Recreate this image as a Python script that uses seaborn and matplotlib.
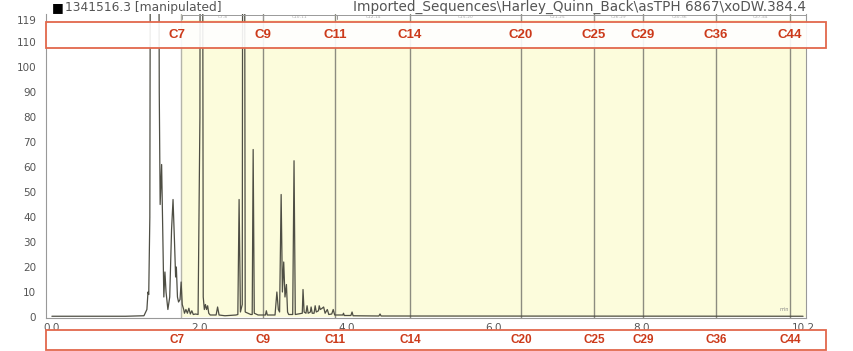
import matplotlib
matplotlib.use("Agg")
import matplotlib.pyplot as plt
import matplotlib.transforms as mtransforms
from matplotlib.patches import Rectangle
import seaborn as sns
import pandas as pd

# ---- data ----
time_min = [0.00, 1.00, 1.25, 1.29, 1.305, 1.315, 1.33, 1.345, 1.44, 1.458, 1.47, 1.49, 1.505,
             1.52, 1.535, 1.55, 1.575, 1.60, 1.625, 1.645, 1.665, 1.68, 1.69, 1.705, 1.72, 1.74,
             1.755, 1.77, 1.79, 1.80, 1.82, 1.84, 1.86, 1.88, 1.90, 1.92, 1.95, 1.985, 2.01, 2.02,
             2.04, 2.055, 2.07, 2.085, 2.10, 2.115, 2.13, 2.15, 2.23, 2.25, 2.27, 2.35, 2.50, 2.525,
             2.542, 2.56, 2.585, 2.595, 2.61, 2.625, 2.70, 2.72, 2.733, 2.748, 2.80, 2.90, 2.912,
             2.925, 3.03, 3.055, 3.075, 3.092, 3.113, 3.13, 3.148, 3.165, 3.185, 3.20, 3.215, 3.27,
             3.288, 3.305, 3.40, 3.41, 3.425, 3.45, 3.465, 3.48, 3.51, 3.52, 3.535, 3.56, 3.575,
             3.59, 3.62, 3.63, 3.645, 3.67, 3.69, 3.71, 3.74, 3.76, 3.80, 3.82, 3.84, 3.95, 3.96,
             3.97, 4.06, 4.076, 4.09, 4.44, 4.456, 4.47, 10.2]
signal = [0.3, 0.3, 0.5, 3, 10, 9, 40, 300, 300, 90, 45, 61, 35,
          8, 18, 10, 3, 8, 35, 47, 30, 16, 20, 8, 6, 7,
          14, 5, 3, 1.5, 3, 1.5, 3.5, 1.2, 2.5, 1, 1.2, 1, 80, 300,
          300, 8, 3, 5, 3, 4.5, 1.5, 0.8, 0.8, 4, 0.8, 0.5, 0.8, 1,
          47, 2, 5, 300, 300, 2, 1, 1, 67, 1.5, 0.8, 0.8, 2.5,
          0.8, 0.8, 10, 3, 2, 49, 10, 22, 8, 13, 2, 1, 1,
          62.5, 1, 1.5, 11, 2, 1.5, 4.5, 1.5, 2, 4, 1.5, 1.5, 4.5,
          2, 2.5, 4.5, 3, 3.5, 4, 1.5, 3, 1, 1.2, 3, 0.8, 0.8, 1.5,
          0.6, 0.6, 2, 0.5, 0.4, 1.2, 0.4, 0.3]

carbon_labels = ["C7", "C9", "C11", "C14", "C20", "C25", "C29", "C36", "C44"]
carbon_rt = [1.755, 2.868, 3.846, 4.864, 6.37, 7.36, 8.026, 9.017, 10.02]

range_labels = ["C7-8", "C10-11", "C12-14", "C15-20", "C21-25", "C26-29", "C30-36", "C37-44"]
range_edges = [1.77, 2.868, 3.87, 4.864, 6.37, 7.36, 8.026, 9.017, 10.24]

x_ticks = [0.0, 2.0, 4.0, 6.0, 8.0, 10.2]
y_ticks = [0, 10, 20, 30, 40, 50, 60, 70, 80, 90, 100, 110, 119]

header_left = "1341516.3 [manipulated]"
header_right = "Imported_Sequences\\Harley_Quinn_Back\\asTPH 6867\\xoDW.384.4"

# ---- figure ----
sns.set_theme(style="white")
plt.rcParams["font.family"] = ["DejaVu Sans"]

fig = plt.figure(figsize=(8.54, 3.51), dpi=100)
ax = fig.add_axes([46 / 854, 1 - 318 / 351, (806 - 46) / 854, (318 - 14) / 351])

xmin, xmax = -0.08, 10.24
ymin, ymax = -0.4, 121.2
ax.set_xlim(xmin, xmax)
ax.set_ylim(ymin, ymax)

# shaded hydrocarbon window
ax.axvspan(carbon_rt[0], xmax, ymin=(0 - ymin) / (ymax - ymin), ymax=(119 - ymin) / (ymax - ymin),
           color="#fcfcdc", zorder=0, lw=0)
for i, rt in enumerate(carbon_rt):
    ax.axvline(rt, color="#b4b4aa" if i == 0 else "#8c8c80", lw=1.0, zorder=1)

df = pd.DataFrame({"time": time_min, "signal": signal})
sns.lineplot(data=df, x="time", y="signal", ax=ax, color="#4e4e44", lw=0.9, zorder=3,
             estimator=None, sort=False)

ax.set_xlabel("")
ax.set_ylabel("")
ax.set_xticks(x_ticks)
ax.set_xticklabels([f"{v:.1f}" for v in x_ticks])
ax.set_yticks(y_ticks)
ax.set_yticklabels([str(v) for v in y_ticks])
ax.set_xticks([v * 0.5 for v in range(0, 21)], minor=True)
ax.set_yticks(list(range(0, 119, 2)), minor=True)
ax.tick_params(axis="both", which="major", labelsize=7.5, colors="#666666", length=3, width=0.8,
               direction="out", pad=1.5)
ax.tick_params(axis="both", which="minor", length=1.5, width=0.6, colors="#999999")
ax.tick_params(axis="x", which="major", pad=0.5)
ax.tick_params(axis="y", which="major", pad=4)
for lab in ax.get_xticklabels() + ax.get_yticklabels():
    lab.set_color("#555555")
for s in ["left", "bottom", "right"]:
    ax.spines[s].set_color("#999999")
    ax.spines[s].set_linewidth(0.8)
ax.spines["top"].set_visible(False)

# range strip at the top of the plot
ax.plot([range_edges[0], range_edges[-1]], [120.9, 120.9], color="#999999", lw=0.7, zorder=4)
for e in range_edges:
    ax.plot([e, e], [119.3, 120.9], color="#999999", lw=0.7, zorder=4)
for lab, a, b in zip(range_labels, range_edges[:-1], range_edges[1:]):
    ax.text((a + b) / 2, 119.9, lab, fontsize=3.2, color="#aaaaaa", ha="center", va="center")

ax.text(9.95, 2.0, "min", fontsize=3.5, color="#888888", ha="center", va="bottom")

# red annotation boxes
blend = mtransforms.blended_transform_factory(ax.transData, fig.transFigure)
red = "#e2684c"
txt_red = "#cc3a1a"
fig.add_artist(Rectangle((46 / 854, 1 - 48 / 351), (826 - 46) / 854, 26 / 351,
                         transform=fig.transFigure, facecolor="white", alpha=0.9,
                         edgecolor="none", zorder=5))
fig.add_artist(Rectangle((46 / 854, 1 - 48 / 351), (826 - 46) / 854, 26 / 351,
                         transform=fig.transFigure, facecolor="none",
                         edgecolor=red, lw=1.3, zorder=6))
fig.add_artist(Rectangle((46 / 854, 1 - 350 / 351), (826 - 46) / 854, 20 / 351,
                         transform=fig.transFigure, facecolor="white",
                         edgecolor=red, lw=1.3, zorder=6))
for lab, rt in zip(carbon_labels, carbon_rt):
    xx = rt - 0.06 if lab == "C7" else rt
    fig.text(xx, 1 - 35 / 351, lab, transform=blend, fontsize=9.5, fontweight="bold",
             color=txt_red, ha="center", va="center", family="Liberation Sans", zorder=7)
    fig.text(xx, 1 - 340 / 351, lab, transform=blend, fontsize=8.5, fontweight="bold",
             color=txt_red, ha="center", va="center", family="Liberation Sans", zorder=7)

# header
fig.text(52 / 854, 1 - 8 / 351, "\u25A0", fontsize=9, color="black", ha="left", va="center")
fig.text(65 / 854, 1 - 7 / 351, header_left, fontsize=8.8, color="#555555", ha="left", va="center")
fig.text(806 / 854, 1 - 7 / 351, header_right, fontsize=9.8, color="#555555", ha="right", va="center")

fig.savefig("out.png", dpi=100)
